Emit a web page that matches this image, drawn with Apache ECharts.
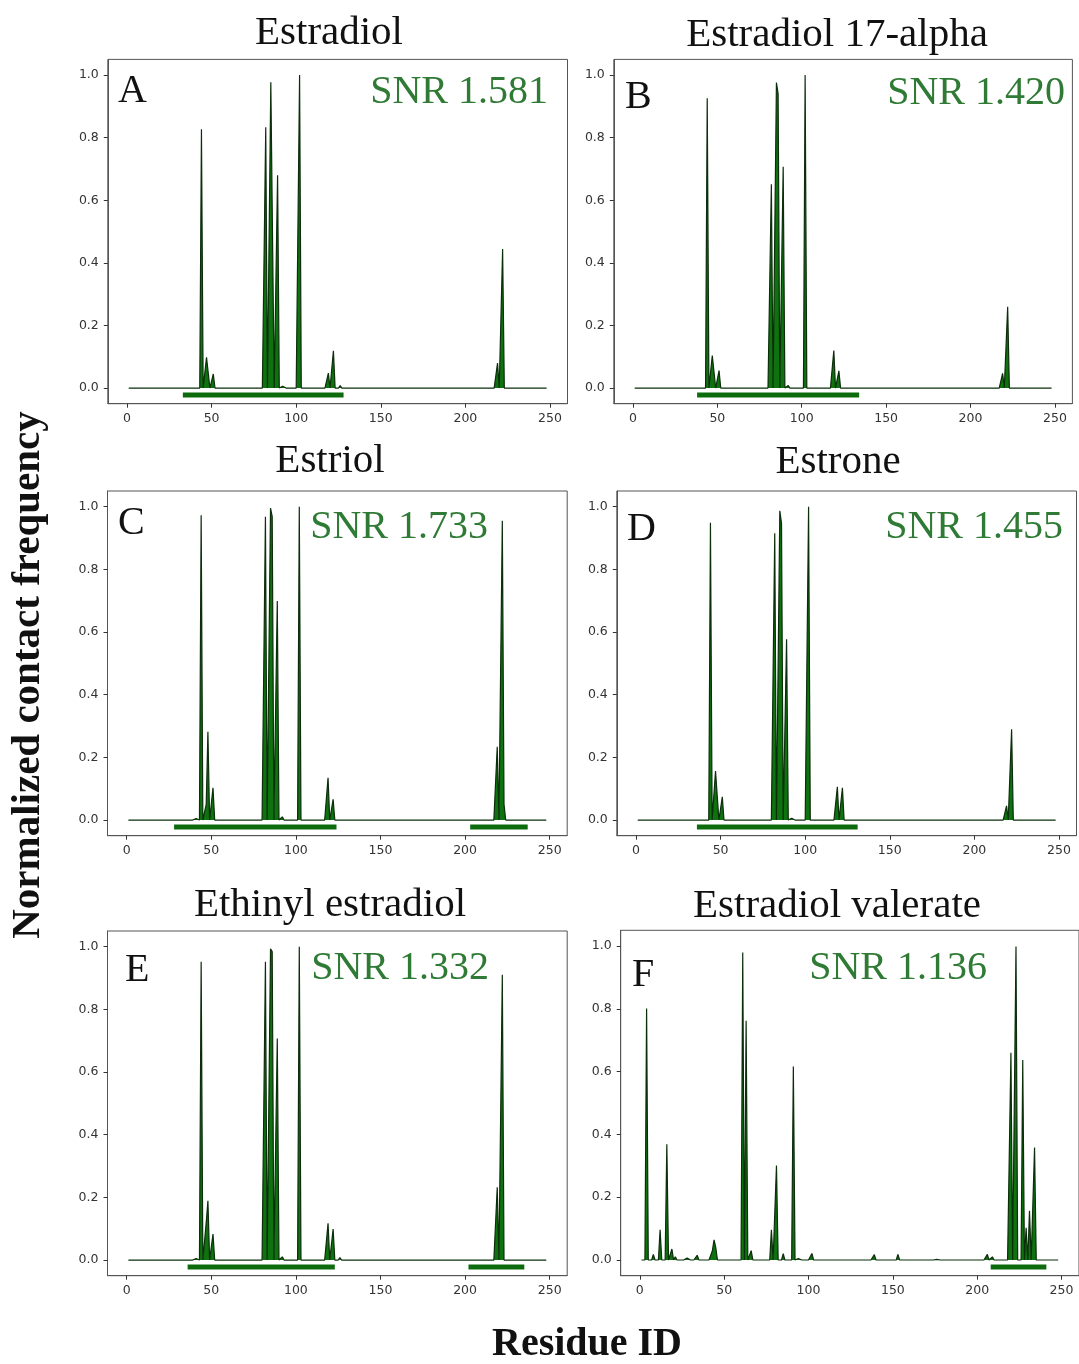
<!DOCTYPE html>
<html>
<head>
<meta charset="utf-8">
<script src="https://cdn.jsdelivr.net/npm/echarts@6/dist/echarts.min.js"></script>
<style>
html,body{margin:0;padding:0;background:#fff;}
#chart{width:1079px;height:1364px;}
</style>
</head>
<body>
<div id="chart"></div>
<script>
// ---- data (residue, normalized contact frequency); residues not listed are 0 ----
const residueFirst = 1;
const residueLast = 248;
const xTicks = [0, 50, 100, 150, 200, 250];
const yTicks = [0, 0.2, 0.4, 0.6, 0.8, 1.0];

const titles = ["Estradiol", "Estradiol 17-alpha", "Estriol", "Estrone", "Ethinyl estradiol", "Estradiol valerate"];
const letters = ["A", "B", "C", "D", "E", "F"];
const snr = ["SNR 1.581", "SNR 1.420", "SNR 1.733", "SNR 1.455", "SNR 1.332", "SNR 1.136"];

const peaksA = [[44,0.827],[47,0.098],[48,0.092],[51,0.045],[82,0.833],[85,0.977],[86,0.975],[89,0.68],[92,0.006],[102,1.0],[119,0.048],[122,0.119],[126,0.008],[219,0.08],[222,0.444]];
const peaksB = [[42,0.003],[44,0.926],[47,0.104],[48,0.1],[51,0.056],[82,0.651],[85,0.976],[86,0.94],[89,0.707],[92,0.008],[102,1.0],[119,0.12],[122,0.055],[126,0.005],[219,0.047],[222,0.26]];
const peaksC = [[41,0.005],[44,0.973],[47,0.05],[48,0.282],[51,0.103],[82,0.968],[85,0.995],[86,0.968],[89,0.699],[92,0.01],[102,1.0],[119,0.135],[122,0.066],[126,0.005],[219,0.234],[222,0.955],[223,0.05]];
const peaksD = [[42,0.003],[44,0.949],[47,0.156],[48,0.15],[51,0.074],[82,0.915],[85,0.987],[86,0.947],[89,0.577],[92,0.006],[102,1.0],[119,0.106],[122,0.103],[126,0.006],[219,0.045],[222,0.29]];
const peaksE = [[41,0.005],[44,0.952],[47,0.12],[48,0.189],[51,0.083],[82,0.952],[85,0.993],[86,0.984],[89,0.707],[92,0.01],[102,1.0],[119,0.117],[122,0.099],[126,0.008],[219,0.232],[222,0.91]];
const peaksF = [[4,0.801],[8,0.018],[12,0.096],[16,0.369],[19,0.035],[21,0.01],[23,0.005],[28,0.006],[34,0.015],[43,0.03],[44,0.064],[45,0.04],[61,0.979],[63,0.762],[66,0.03],[78,0.096],[81,0.301],[85,0.02],[91,0.616],[94,0.005],[102,0.021],[139,0.017],[153,0.018],[176,0.002],[206,0.018],[209,0.01],[220,0.66],[223,0.998],[227,0.637],[229,0.103],[231,0.157],[234,0.358]];

// binding-domain bars [start, end] drawn just below zero
const domainsA = [[33,128]];
const domainsB = [[38,134]];
const domainsC = [[28,124],[203,237]];
const domainsD = [[36,131]];
const domainsE = [[36,123],[202,235]];
const domainsF = [[208,241]];
const domainY = -0.022;

const peaks = [peaksA, peaksB, peaksC, peaksD, peaksE, peaksF];
const domains = [domainsA, domainsB, domainsC, domainsD, domainsE, domainsF];

// ---- layout ----
const grids = [
  {left:107.8, top:59.4, width:459.7, height:344.3},
  {left:613.8, top:59.4, width:458.6, height:344.3},
  {left:107.5, top:491.0, width:459.7, height:344.7},
  {left:616.8, top:491.0, width:459.7, height:344.7},
  {left:107.5, top:931.0, width:459.7, height:344.7},
  {left:620.7, top:930.3, width:461.9, height:345.4}
];
const titlePos = [[329,33],[837,35.5],[330,461.5],[838,462.5],[330,905.5],[837,906]];
const letterPos = [[118,91],[625,97],[118,523],[627,529],[125,970],[632,975]];
const snrPos = [[548,92.5],[1065,93],[488,527.5],[1063,527.5],[489,968],[987,968]];

const FILL = '#0e720e';
const EDGE = '#0b2e0b';
const SNRC = '#2f7a34';
const serif = '"Liberation Serif", "Times New Roman", serif';
const tickFont = '"DejaVu Sans", sans-serif';

function fullSeries(pk){
  const m = new Map(pk.map(p => [p[0], p[1]]));
  const out = [];
  for (let r = residueFirst; r <= residueLast; r++) out.push([r, m.has(r) ? m.get(r) : 0]);
  return out;
}

const option = {
  animation:false,
  backgroundColor:'#fff',
  grid:[], xAxis:[], yAxis:[], series:[], graphic:[]
};

grids.forEach((g, i) => {
  option.grid.push(Object.assign({show:true, borderColor:'#555', borderWidth:1, backgroundColor:'transparent'}, g));
  option.xAxis.push({
    type:'value', gridIndex:i, min:-11.35, max:260.35,
    axisLine:{show:true, onZero:false, lineStyle:{color:'#555', width:1}},
    axisTick:{show:true, length:4, customValues:xTicks, lineStyle:{color:'#333'}},
    axisLabel:{customValues:xTicks, color:'#333', fontFamily:tickFont, fontSize:12.5, margin:9},
    splitLine:{show:false}
  });
  option.yAxis.push({
    type:'value', gridIndex:i, min:-0.05, max:1.05,
    axisLine:{show:true, onZero:false, lineStyle:{color:'#555', width:1}},
    axisTick:{show:true, length:4, customValues:yTicks, lineStyle:{color:'#333'}},
    axisLabel:{customValues:yTicks, color:'#333', fontFamily:tickFont, fontSize:12.5, margin:9,
      formatter: v => Number(v).toFixed(1)},
    splitLine:{show:false}
  });
  option.series.push({
    type:'line', xAxisIndex:i, yAxisIndex:i, data:fullSeries(peaks[i]),
    symbol:'none', smooth:false,
    lineStyle:{color:EDGE, width:1.2},
    areaStyle:{color:FILL, opacity:1, origin:0},
    z:3
  });
  domains[i].forEach(d => {
    option.series.push({
      type:'line', xAxisIndex:i, yAxisIndex:i,
      data:[[d[0], domainY],[d[1], domainY]],
      symbol:'none', lineStyle:{color:'#0d6a0d', width:5, cap:'butt'}, z:4
    });
  });
  option.graphic.push({type:'text', x:titlePos[i][0], y:titlePos[i][1],
    style:{text:titles[i], font:'41px ' + serif, fill:'#111', align:'center', verticalAlign:'middle', textAlign:'center', textVerticalAlign:'middle'}});
  option.graphic.push({type:'text', x:letterPos[i][0], y:letterPos[i][1], z:10,
    style:{text:letters[i], font:'40px ' + serif, fill:'#111', align:'left', verticalAlign:'middle', textAlign:'left', textVerticalAlign:'middle'}});
  option.graphic.push({type:'text', x:snrPos[i][0], y:snrPos[i][1], z:10,
    style:{text:snr[i], font:'40px ' + serif, fill:SNRC, align:'right', verticalAlign:'middle', textAlign:'right', textVerticalAlign:'middle'}});
});

option.graphic.push({type:'text', x:28, y:675, rotation:Math.PI/2,
  style:{text:'Normalized contact frequency', font:'bold 41px ' + serif, fill:'#111', align:'center', verticalAlign:'middle', textAlign:'center', textVerticalAlign:'middle'}});
option.graphic.push({type:'text', x:587, y:1345,
  style:{text:'Residue ID', font:'bold 40px ' + serif, fill:'#111', align:'center', verticalAlign:'middle', textAlign:'center', textVerticalAlign:'middle'}});

const chart = echarts.init(document.getElementById('chart'), null, {renderer:'canvas'});
chart.setOption(option);
</script>
</body>
</html>
